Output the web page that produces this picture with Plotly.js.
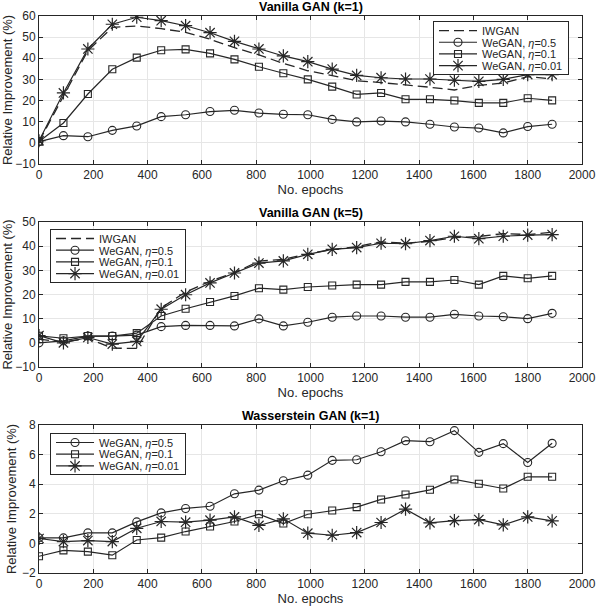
<!DOCTYPE html>
<html>
<head>
<meta charset="utf-8">
<script src="https://cdn.plot.ly/plotly-3.0.1.min.js"></script>
<style>
  html, body { margin: 0; padding: 0; background: #fff; }
  #chart { width: 596px; height: 606px; }
</style>
</head>
<body>
<div id="chart"></div>
<script>
const EPOCHS = [0, 90, 180, 270, 360, 450, 540, 630, 720, 810, 900, 990, 1080, 1170, 1260, 1350, 1440, 1530, 1620, 1710, 1800, 1890];

// Vanilla GAN (k=1)
const K1_IWGAN = [0.6, 21.8, 43.6, 54.6, 55.3, 54.0, 52.3, 49.0, 45.0, 41.6, 37.6, 34.1, 31.6, 29.4, 28.5, 27.5, 26.3, 25.0, 27.2, 28.3, 31.3, 30.2];
const K1_ETA05 = [0.6, 3.4, 2.9, 5.9, 8.0, 12.4, 13.3, 14.8, 15.4, 14.1, 13.5, 13.3, 11.1, 9.9, 10.3, 9.9, 8.8, 7.5, 7.0, 4.7, 7.7, 8.8];
const K1_ETA01 = [0.6, 9.4, 23.1, 34.8, 40.3, 43.8, 44.2, 42.3, 39.5, 36.0, 32.9, 30.0, 26.6, 22.9, 23.6, 20.6, 20.6, 20.0, 18.9, 18.9, 21.1, 20.1];
const K1_ETA001 = [1.0, 23.6, 44.4, 56.1, 59.4, 57.8, 55.4, 52.1, 48.0, 44.4, 41.1, 38.4, 34.9, 31.9, 30.8, 30.2, 30.2, 29.6, 29.1, 30.0, 32.3, 32.3];

// Vanilla GAN (k=5)
const K5_IWGAN = [1.5, 0.4, 1.8, -2.2, -2.3, 14.5, 21.0, 25.5, 29.0, 33.8, 34.5, 36.8, 38.6, 39.8, 41.8, 41.2, 42.0, 43.5, 44.0, 45.2, 44.8, 45.8];
const K5_ETA05 = [0.0, 0.8, 2.8, 2.8, 3.2, 6.7, 7.2, 7.2, 7.0, 9.9, 7.0, 8.5, 10.6, 11.1, 11.1, 10.6, 10.6, 11.8, 11.1, 10.8, 10.0, 12.2];
const K5_ETA01 = [2.9, 1.9, 2.8, 2.8, 4.0, 11.1, 14.1, 16.9, 19.4, 22.6, 22.0, 23.1, 23.7, 24.1, 24.1, 25.2, 25.2, 26.0, 24.1, 27.7, 26.7, 27.7];
const K5_ETA001 = [3.0, 0.0, 2.2, -0.5, 0.6, 13.9, 19.9, 24.8, 28.9, 33.0, 33.9, 36.6, 38.7, 39.4, 41.2, 41.0, 42.3, 44.1, 43.1, 44.1, 44.6, 44.8];

// Wasserstein GAN (k=1)
const WG_ETA05 = [0.37, 0.37, 0.71, 0.71, 1.45, 2.06, 2.36, 2.51, 3.35, 3.60, 4.23, 4.61, 5.61, 5.65, 6.19, 6.94, 6.87, 7.62, 6.15, 6.74, 5.47, 6.76];
const WG_ETA01 = [-0.87, -0.47, -0.56, -0.80, 0.23, 0.39, 0.80, 1.14, 1.48, 1.97, 1.34, 1.97, 2.22, 2.45, 2.97, 3.30, 3.62, 4.32, 4.03, 3.71, 4.50, 4.50];
const WG_ETA001 = [0.33, 0.12, 0.19, 0.12, 1.02, 1.48, 1.43, 1.57, 1.79, 1.21, 1.66, 0.69, 0.55, 0.73, 1.41, 2.31, 1.39, 1.54, 1.61, 1.25, 1.79, 1.52];

const PANEL_TITLES = ['Vanilla GAN (k=1)', 'Vanilla GAN (k=5)', 'Wasserstein GAN (k=1)'];
const SERIES_NAMES = ['IWGAN', 'WeGAN, <i>η</i>=0.5', 'WeGAN, <i>η</i>=0.1', 'WeGAN, <i>η</i>=0.01'];

const INK = '#262626';
const GRID = '#e6e6e6';
const FONT = '"Liberation Sans", Arial, Helvetica, sans-serif';

const STYLE = {
  iwgan: { mode: 'lines', line: { color: INK, width: 1.3, dash: '10px,5px' } },
  eta05: { mode: 'lines+markers', line: { color: INK, width: 1.2 }, marker: { symbol: 'circle-open', size: 8, color: INK, line: { width: 1.1 } } },
  eta01: { mode: 'lines+markers', line: { color: INK, width: 1.2 }, marker: { symbol: 'square-open', size: 7, color: INK, line: { width: 1.1 } } },
  eta001: { mode: 'lines+markers', line: { color: INK, width: 1.2 }, marker: { symbol: 'asterisk-open', size: 11, color: INK, line: { width: 1.2, color: INK } } },
};

function trace(y, style, name, n) {
  const s = n === 1 ? '' : String(n);
  return Object.assign({
    x: EPOCHS, y, name, type: 'scatter',
    xaxis: 'x' + s, yaxis: 'y' + s, legend: 'legend' + s,
    hoverinfo: 'skip',
  }, STYLE[style]);
}

const traces = [
  trace(K1_IWGAN, 'iwgan', SERIES_NAMES[0], 1),
  trace(K1_ETA05, 'eta05', SERIES_NAMES[1], 1),
  trace(K1_ETA01, 'eta01', SERIES_NAMES[2], 1),
  trace(K1_ETA001, 'eta001', SERIES_NAMES[3], 1),
  trace(K5_IWGAN, 'iwgan', SERIES_NAMES[0], 2),
  trace(K5_ETA05, 'eta05', SERIES_NAMES[1], 2),
  trace(K5_ETA01, 'eta01', SERIES_NAMES[2], 2),
  trace(K5_ETA001, 'eta001', SERIES_NAMES[3], 2),
  trace(WG_ETA05, 'eta05', SERIES_NAMES[1], 3),
  trace(WG_ETA01, 'eta01', SERIES_NAMES[2], 3),
  trace(WG_ETA001, 'eta001', SERIES_NAMES[3], 3),
];

function axis(extra) {
  return Object.assign({
    showline: true, mirror: 'ticks', linecolor: INK, linewidth: 1,
    ticks: 'inside', ticklen: 4, tickcolor: INK, tickwidth: 1,
    showgrid: true, gridcolor: GRID, gridwidth: 1, zeroline: false,
    tickfont: { family: FONT, size: 12, color: INK },
    fixedrange: true,
  }, extra);
}

const xTitle = { text: 'No. epochs', font: { family: FONT, size: 13, color: INK }, standoff: 2 };
const yTitle = { text: 'Relative Improvement (%)', font: { family: FONT, size: 13, color: INK }, standoff: 2 };

const DOMAINS = [[0.7294, 0.9736], [0.3944, 0.6337], [0.0545, 0.2987]];

function legendBox(x, y) {
  return {
    x, y, xanchor: 'left', yanchor: 'top',
    bgcolor: '#fff', bordercolor: INK, borderwidth: 1,
    font: { family: FONT, size: 11, color: INK },
    itemwidth: 38, tracegroupgap: 0,
  };
}

const layout = {
  width: 596, height: 606, autosize: false,
  margin: { l: 39, r: 14, t: 0, b: 0 },
  paper_bgcolor: '#fff', plot_bgcolor: '#fff',
  showlegend: true,
  xaxis: axis({ domain: [0, 1], anchor: 'y', range: [0, 2000], dtick: 200, title: xTitle }),
  yaxis: axis({ domain: DOMAINS[0], anchor: 'x', range: [-10, 60], dtick: 10, title: yTitle }),
  xaxis2: axis({ domain: [0, 1], anchor: 'y2', range: [0, 2000], dtick: 200, title: xTitle }),
  yaxis2: axis({ domain: DOMAINS[1], anchor: 'x2', range: [-10, 50], dtick: 10, title: yTitle }),
  xaxis3: axis({ domain: [0, 1], anchor: 'y3', range: [0, 2000], dtick: 200, title: xTitle }),
  yaxis3: axis({ domain: DOMAINS[2], anchor: 'x3', range: [-2, 8], dtick: 2, title: yTitle }),
  legend: legendBox(0.7256, 0.9653),
  legend2: legendBox(0.0203, 0.6221),
  legend3: legendBox(0.0203, 0.2855),
  annotations: PANEL_TITLES.map((t, i) => ({
    text: '<b>' + t + '</b>',
    xref: 'paper', yref: 'paper', x: 0.5, y: DOMAINS[i][1],
    xanchor: 'center', yanchor: 'bottom', yshift: 0, showarrow: false,
    font: { family: FONT, size: 12.5, color: '#000' },
  })),
};

// MATLAB packs legend rows much tighter than plotly's 19px minimum, so squeeze them after drawing
function tightenLegend(gd, id, pitch, lift) {
  const g = gd.querySelector('g.' + id);
  if (!g) return;
  const items = g.querySelectorAll('g.traces');
  let first = null, oldLast = 0, newLast = 0;
  items.forEach((it, i) => {
    const m = /translate\(\s*([-\d.]+)[ ,]+([-\d.]+)\s*\)/.exec(it.getAttribute('transform') || '');
    if (!m) return;
    const x = +m[1], y = +m[2];
    if (first == null) first = y;
    oldLast = y;
    newLast = first - lift + i * pitch;
    it.setAttribute('transform', `translate(${x},${newLast})`);
  });
  const bg = g.querySelector('rect.bg');
  if (bg) bg.setAttribute('height', +bg.getAttribute('height') - (oldLast - newLast) - lift);
}

Plotly.newPlot('chart', traces, layout, { staticPlot: true, displayModeBar: false }).then((gd) => {
  tightenLegend(gd, 'legend', 11.7, 6);
  tightenLegend(gd, 'legend2', 11.7, 6);
  tightenLegend(gd, 'legend3', 11.7, 6);
});
</script>
</body>
</html>
